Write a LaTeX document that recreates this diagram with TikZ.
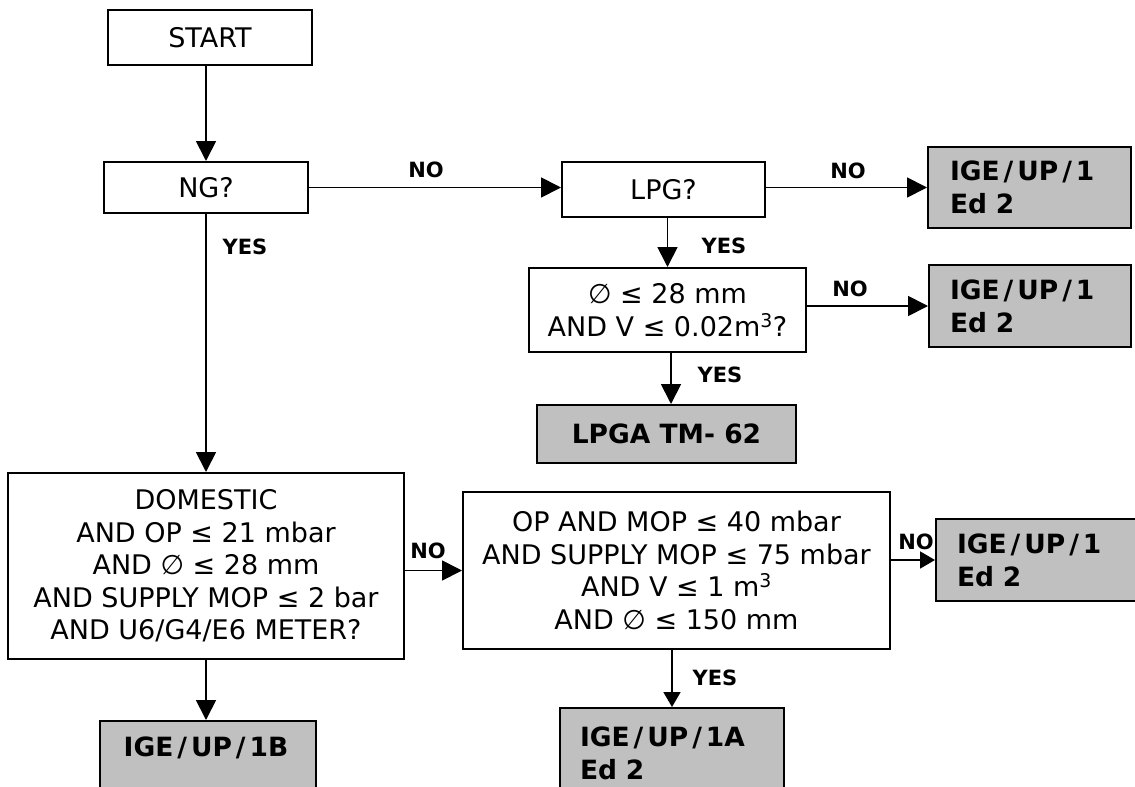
\documentclass[tikz,border=0pt]{standalone}
\usepackage{fontspec}
\setmainfont{DejaVu Sans}
\usetikzlibrary{arrows.meta}
\definecolor{resgray}{HTML}{C0C0C0}
\newcommand\sla{\kern4pt/\kern4pt}
\begin{document}
\begin{tikzpicture}[x=1pt,y=-1pt,
  box/.style={draw=black, line width=2pt, fill=white, inner sep=0pt, align=center,
    font=\fontsize{27}{32.5}\selectfont},
  res/.style={draw=black, line width=2pt, fill=resgray, inner sep=0pt,
    font=\fontsize{26.5}{33}\selectfont\bfseries},
  restext/.style={inner sep=0pt, font=\fontsize{26.5}{33}\selectfont\bfseries},
  lbl/.style={font=\fontsize{21}{24}\selectfont\bfseries, inner sep=0pt},
  arr/.style={line width=1.8pt, -{Triangle[width=20pt,length=20pt]}},
  arrs/.style={line width=1.8pt, -{Triangle[width=17pt,length=15pt]}},
]
\clip (0,0) rectangle (1135,787);
\fill[white] (0,0) rectangle (1135,787);

% decision boxes
\node[box, minimum width=204pt, minimum height=55pt] (start) at (210,37.5) {START};
\node[box, minimum width=204pt, minimum height=51pt] (ng) at (206,187.5) {NG?};
\node[box, minimum width=203pt, minimum height=55pt] (lpg) at (663.5,189.5) {LPG?};
\node[box, minimum width=277pt, minimum height=84pt] (diam) at (667.5,310)
  {∅ ≤ 28 mm\\AND V ≤ 0.02m\textsuperscript{3}?};
\node[box, minimum width=396pt, minimum height=186pt] (dom) at (206,566)
  {DOMESTIC\\AND OP ≤ 21 mbar\\AND ∅ ≤ 28 mm\\AND SUPPLY MOP ≤ 2 bar\\AND U6/G4/E6 METER?};
\node[box, minimum width=427pt, minimum height=157pt] (op) at (676.5,570.5)
  {OP AND MOP ≤ 40 mbar\\AND SUPPLY MOP ≤ 75 mbar\\AND V ≤ 1 m\textsuperscript{3}\\AND ∅ ≤ 150 mm};

% result boxes
\node[res, minimum width=203pt, minimum height=81pt, text width=159pt, align=left] (ige1) at (1029.5,187.5)
  {IGE\sla UP\sla 1\\Ed 2};
\node[res, minimum width=202pt, minimum height=82pt, text width=160pt, align=left] (ige2) at (1030,306)
  {IGE\sla UP\sla 1\\Ed 2};
\node[res, minimum width=259pt, minimum height=58pt, align=center] (lpga) at (666.5,434) {LPGA TM- 62};
\node[res, minimum width=204pt, minimum height=82pt, text width=162pt, align=left] (ige3) at (1038,560)
  {IGE\sla UP\sla 1\\Ed 2};
\node[res, minimum width=224pt, minimum height=90pt, text width=184pt, align=left] (ige1a) at (672,753)
  {IGE\sla UP\sla 1A\\Ed 2};
\node[res, minimum width=216pt, minimum height=80pt] (ige1b) at (208,761) {};
\node[restext] (ige1bt) at (206,748) {IGE\sla UP\sla 1B};

% connectors
\draw[arr] (start.south -| ng.north) -- (ng.north);
\draw[arr] (ng.east) -- (ng.east -| lpg.west);
\draw[arr] (lpg.east |- ige1.west) -- (ige1.west);
\draw[arr] (diam.north |- lpg.south) -- (diam.north);
\draw[arr] (diam.east |- ige2.west) -- (ige2.west);
\draw[arr] ([xshift=3.5pt]diam.south) -- ([xshift=3.5pt]diam.south |- lpga.north);
\draw[arr] (ng.south) -- (ng.south |- dom.north);
\draw[arr] (dom.east |- op.west) -- (op.west);
\draw[arrs] (op.east |- ige3.west) -- (ige3.west);
\draw[arrs] (ige1a.north |- op.south) -- (ige1a.north);
\draw[arr] (dom.south) -- (dom.south |- ige1b.north);

% labels
\node[lbl] (no1) at (426,170) {NO};
\node[lbl] (no2) at (848,171) {NO};
\node[lbl] (yes1) at (724,246) {YES};
\node[lbl] (no3) at (850,289) {NO};
\node[lbl] (yes2) at (720,375) {YES};
\node[lbl] (yes0) at (245,247) {YES};
\node[lbl] (no4) at (428,551) {NO};
\node[lbl] (no5) at (916,542) {NO};
\node[lbl] (yes3) at (715,678) {YES};
\end{tikzpicture}
\end{document}
